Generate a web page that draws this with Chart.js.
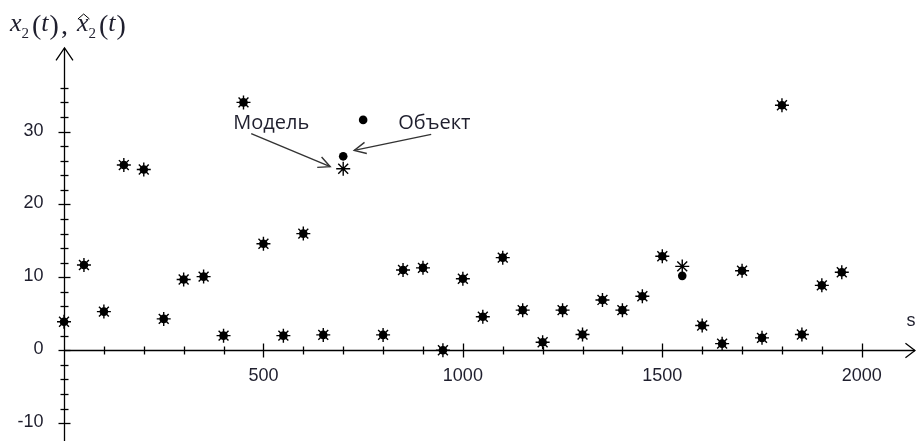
<!DOCTYPE html>
<html>
<head>
<meta charset="utf-8">
<script src="https://cdn.jsdelivr.net/npm/chart.js@4.4.0/dist/chart.umd.min.js"></script>
<style>
html, body { margin: 0; padding: 0; background: #fff; }
#wrap { position: relative; width: 916px; height: 441px; }
</style>
</head>
<body>
<div id="wrap"><canvas id="chart"></canvas></div>
<script>
// time, s
var times = [0, 50, 100, 150, 200, 250, 300, 350, 400, 450,
             500, 550, 600, 650, 700, 750, 800, 850, 900, 950,
             1000, 1050, 1100, 1150, 1200, 1250, 1300, 1350, 1400, 1450,
             1500, 1550, 1600, 1650, 1700, 1750, 1800, 1850, 1900, 1950];
// Модель (звёздочки)
var modelValues = [3.9, 11.7, 5.3, 25.4, 24.8, 4.3, 9.7, 10.1, 2.0, 34.0,
                   14.6, 2.0, 16.0, 2.1, 24.9, null, 2.1, 11.0, 11.3, 0.0,
                   9.8, 4.6, 12.7, 5.5, 1.1, 5.5, 2.15, 6.9, 5.5, 7.4,
                   12.9, 11.5, 3.4, 0.9, 10.9, 1.7, 33.6, 2.15, 8.9, 10.7];
// Объект (точки)
var objectValues = [3.9, 11.7, 5.3, 25.4, 24.8, 4.3, 9.7, 10.1, 2.0, 34.0,
                    14.6, 2.0, 16.0, 2.1, 26.6, 31.6, 2.1, 11.0, 11.3, 0.0,
                    9.8, 4.6, 12.7, 5.5, 1.1, 5.5, 2.15, 6.9, 5.5, 7.4,
                    12.9, 10.2, 3.4, 0.9, 10.9, 1.7, 33.6, 2.15, 8.9, 10.7];
var xTickLabels = [500, 1000, 1500, 2000];
var yTickLabels = [-10, 0, 10, 20, 30];

function toPoints(vals) {
    var pts = [];
    for (var i = 0; i < times.length; i++) {
        if (vals[i] !== null) pts.push({ x: times[i], y: vals[i] });
    }
    return pts;
}

var textColor = '#1f1f2e';

function chevron(ctx, fx, fy, tx, ty, len, half) {
    var a = Math.atan2(ty - fy, tx - fx);
    ctx.beginPath();
    ctx.moveTo(tx - len * Math.cos(a - half), ty - len * Math.sin(a - half));
    ctx.lineTo(tx, ty);
    ctx.lineTo(tx - len * Math.cos(a + half), ty - len * Math.sin(a + half));
    ctx.stroke();
}

// оси со стрелками и засечками
var axesPlugin = {
    id: 'axes',
    beforeDatasetsDraw: function (chart) {
        var ctx = chart.ctx;
        var xs = chart.scales.x, ys = chart.scales.y;
        var x0 = Math.round(xs.getPixelForValue(0)) + 0.5;
        var y0 = Math.round(ys.getPixelForValue(0)) + 0.5;
        ctx.save();
        ctx.strokeStyle = '#000';
        ctx.lineWidth = 1.3;
        // y axis
        ctx.beginPath();
        ctx.moveTo(x0, chart.height);
        ctx.lineTo(x0, 48);
        ctx.stroke();
        chevron(ctx, x0, 100, x0, 48, 15, 0.6);
        // x axis
        ctx.beginPath();
        ctx.moveTo(x0, y0);
        ctx.lineTo(chart.width - 1, y0);
        ctx.stroke();
        chevron(ctx, 0, y0, chart.width - 1, y0, 12, 0.65);
        // y ticks
        for (var v = -10; v <= 36; v += 2) {
            var py = Math.round(ys.getPixelForValue(v)) + 0.5;
            var w = (v % 10 === 0) ? 6 : 4;
            ctx.beginPath();
            ctx.moveTo(x0 - w, py);
            ctx.lineTo(x0 + w, py);
            ctx.stroke();
        }
        // x ticks
        for (var t = 100; t <= 2000; t += 100) {
            var px = Math.round(xs.getPixelForValue(t)) + 0.5;
            var h = (t % 500 === 0) ? 7 : 4;
            ctx.beginPath();
            ctx.moveTo(px, y0 - h);
            ctx.lineTo(px, y0 + h);
            ctx.stroke();
        }
        // tick labels
        ctx.fillStyle = textColor;
        ctx.font = '18px "Liberation Sans", Arial, sans-serif';
        ctx.textAlign = 'right';
        ctx.textBaseline = 'middle';
        yTickLabels.forEach(function (v) {
            ctx.fillText(String(v), x0 - 21, ys.getPixelForValue(v) - 1);
        });
        ctx.textAlign = 'center';
        xTickLabels.forEach(function (v) {
            ctx.fillText(String(v), xs.getPixelForValue(v), y0 + 26);
        });
        ctx.fillText('s', chart.width - 5, y0 - 29);

        // подпись оси y: x2(t), x^2(t)
        var serifI = 'italic 26px "Liberation Serif", "Times New Roman", serif';
        var serif = '28px "Liberation Serif", "Times New Roman", serif';
        var sub = '15px "Liberation Serif", "Times New Roman", serif';
        var parts = [
            { s: 'x', f: serifI, dy: 0 },
            { s: '2', f: sub, dy: 7 },
            { s: '(', f: serif, dy: 3, gap: 3 },
            { s: 't', f: serifI, dy: 0 },
            { s: ')', f: serif, dy: 3, gap: 1 },
            { s: ',', f: serif, dy: 3, gap: 2 },
            { s: 'x', f: serifI, dy: 0, gap: 9, hat: true },
            { s: '2', f: sub, dy: 7 },
            { s: '(', f: serif, dy: 3, gap: 3 },
            { s: 't', f: serifI, dy: 0 },
            { s: ')', f: serif, dy: 3, gap: 1 }
        ];
        var cx = 10, base = 31;
        ctx.textAlign = 'left';
        ctx.textBaseline = 'alphabetic';
        ctx.lineWidth = 1;
        parts.forEach(function (p) {
            cx += p.gap || 0;
            ctx.font = p.f;
            ctx.fillText(p.s, cx, base + p.dy);
            var w = ctx.measureText(p.s).width;
            if (p.hat) {
                ctx.beginPath();
                ctx.moveTo(cx + 1, base - 12);
                ctx.lineTo(cx + w / 2 + 1, base - 17);
                ctx.lineTo(cx + w + 1, base - 12);
                ctx.stroke();
            }
            cx += w;
        });
        ctx.restore();
    },
    afterDatasetsDraw: function (chart) {
        var ctx = chart.ctx;
        var xs = chart.scales.x, ys = chart.scales.y;
        var i = times.indexOf(700);
        var mx = xs.getPixelForValue(700), my = ys.getPixelForValue(modelValues[i]);
        var ox = xs.getPixelForValue(700), oy = ys.getPixelForValue(objectValues[i]);
        ctx.save();
        ctx.fillStyle = textColor;
        ctx.font = '20px "Open Sans", sans-serif';
        ctx.textAlign = 'left';
        ctx.textBaseline = 'alphabetic';
        ctx.fillText('Модель', mx - 110, my - 40);
        ctx.fillText('Объект', ox + 55, oy - 27);
        ctx.strokeStyle = '#333';
        ctx.lineWidth = 1.4;
        // стрелка к модели
        var sx = mx - 92, sy = my - 35, tx = mx - 13, ty = my - 2;
        ctx.beginPath();
        ctx.moveTo(sx, sy);
        ctx.lineTo(tx, ty);
        ctx.stroke();
        chevron(ctx, sx, sy, tx, ty, 13, 0.45);
        // стрелка к объекту
        sx = ox + 88; sy = oy - 22; tx = ox + 11; ty = oy - 6;
        ctx.beginPath();
        ctx.moveTo(sx, sy);
        ctx.lineTo(tx, ty);
        ctx.stroke();
        chevron(ctx, sx, sy, tx, ty, 13, 0.45);
        ctx.restore();
    }
};

new Chart(document.getElementById('chart'), {
    type: 'scatter',
    data: {
        datasets: [
            {
                label: 'Модель',
                data: toPoints(modelValues),
                pointStyle: 'star',
                pointRadius: 7,
                borderColor: '#000',
                backgroundColor: '#000',
                borderWidth: 1.4,
                order: 0,
                clip: false
            },
            {
                label: 'Объект',
                data: toPoints(objectValues),
                pointStyle: 'circle',
                pointRadius: 4.3,
                borderColor: '#000',
                backgroundColor: '#000',
                borderWidth: 0,
                order: 1,
                clip: false
            }
        ]
    },
    options: {
        responsive: true,
        maintainAspectRatio: false,
        animation: false,
        layout: { padding: { left: 64, right: 1, top: 55, bottom: 1 } },
        plugins: { legend: { display: false }, tooltip: { enabled: false } },
        scales: {
            x: { type: 'linear', min: 0, max: 2115, display: false },
            y: { type: 'linear', min: -11.3, max: 40.5, display: false }
        }
    },
    plugins: [axesPlugin]
});
</script>
</body>
</html>
